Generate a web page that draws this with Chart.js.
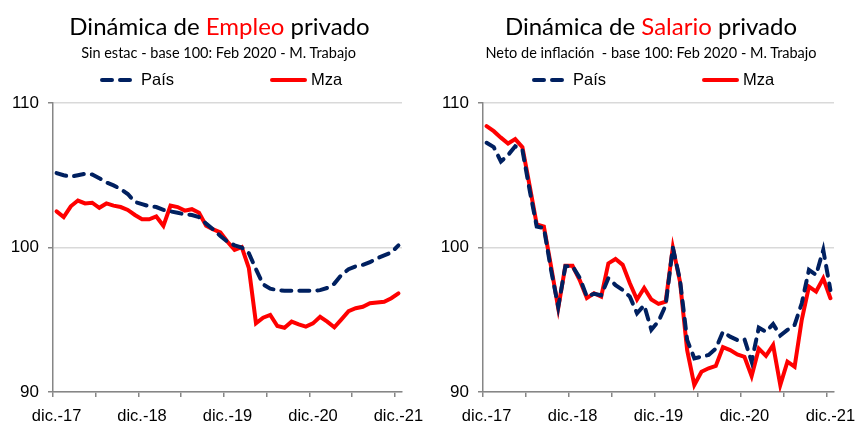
<!DOCTYPE html>
<html>
<head>
<meta charset="utf-8">
<script src="https://cdn.jsdelivr.net/npm/chart.js@4.4.1/dist/chart.umd.min.js"></script>
<style>
  body { margin: 0; background: #fff; }
  #wrap { position: relative; width: 855px; height: 421px; overflow: hidden; }
  canvas { position: absolute; top: 0; }
  .ttl { position: absolute; text-align: center; font-family: Lato, sans-serif; color: #000; white-space: nowrap; }
  .t1 { font-size: 24px; line-height: 28px; top: 12px; }
  .t2 { font-size: 14.5px; line-height: 17px; top: 44px; }
  .red { color: #ff0000; }
</style>
</head>
<body>
<div id="wrap">
  <canvas id="empleo" width="428" height="421" style="left:0"></canvas>
  <canvas id="salario" width="427" height="421" style="left:428px"></canvas>
  <div class="ttl t1" style="left:0;width:439px">Dinámica de <span class="red">Empleo</span> privado</div>
  <div class="ttl t2" style="left:0;width:437px">Sin estac - base 100: Feb 2020 - M. Trabajo</div>
  <div class="ttl t1" style="left:428px;width:446px">Dinámica de <span class="red">Salario</span> privado</div>
  <div class="ttl t2" style="left:428px;width:446px">Neto de inflación&nbsp; - base 100: Feb 2020 - M. Trabajo</div>
</div>
<script>
// monthly, dic-17 .. dic-21
const months = [
  'dic.-17',
  'ene.-18', 'feb.-18', 'mar.-18', 'abr.-18', 'may.-18', 'jun.-18', 'jul.-18', 'ago.-18', 'sep.-18', 'oct.-18', 'nov.-18', 'dic.-18',
  'ene.-19', 'feb.-19', 'mar.-19', 'abr.-19', 'may.-19', 'jun.-19', 'jul.-19', 'ago.-19', 'sep.-19', 'oct.-19', 'nov.-19', 'dic.-19',
  'ene.-20', 'feb.-20', 'mar.-20', 'abr.-20', 'may.-20', 'jun.-20', 'jul.-20', 'ago.-20', 'sep.-20', 'oct.-20', 'nov.-20', 'dic.-20',
  'ene.-21', 'feb.-21', 'mar.-21', 'abr.-21', 'may.-21', 'jun.-21', 'jul.-21', 'ago.-21', 'sep.-21', 'oct.-21', 'nov.-21', 'dic.-21'
]

const empleoPais = [
  105.15, 105.0, 104.9, 105.0, 105.1, 105.05, 104.8, 104.5, 104.3, 104.05, 103.7, 103.15, 103.0,
  102.85, 102.8, 102.6, 102.5, 102.4, 102.3, 102.25, 102.1, 101.65, 101.25, 100.8, 100.4,
  100.15, 100.0, 99.6, 98.5, 97.45, 97.15, 97.05, 97.0, 97.0, 97.0, 97.0, 97.0,
  97.05, 97.2, 97.5, 98.1, 98.5, 98.7, 98.8, 98.98, 99.25, 99.45, 99.65, 100.15
]
const empleoMza = [
  102.5, 102.1, 102.85, 103.25, 103.05, 103.1, 102.75, 103.05, 102.9, 102.8, 102.6, 102.25, 101.95,
  101.95, 102.15, 101.5, 102.9, 102.8, 102.55, 102.65, 102.4, 101.5, 101.25, 101.05, 100.4,
  99.83, 100.02, 98.57, 94.75, 95.14, 95.33, 94.57, 94.45, 94.87, 94.68, 94.52, 94.75,
  95.2, 94.87, 94.48, 95.03, 95.6, 95.8, 95.9, 96.14, 96.2, 96.25, 96.49, 96.83
]
const salarioPais = [
  107.25, 106.95, 105.95, 106.4, 107.0, 106.75, 104.0, 101.45, 101.35, 98.45, 95.9, 98.7, 98.7,
  97.9, 96.6, 96.8, 96.7, 97.87, 97.4, 97.06, 96.6, 95.45, 96.0, 94.3, 94.9,
  96.0, 100.0, 97.75, 93.6, 92.33, 92.44, 92.56, 93.0, 94.17, 93.83, 93.6, 93.66,
  92.1, 94.45, 94.17, 94.7, 93.9, 94.3, 94.64, 96.14, 98.45, 98.1, 99.83, 97.06
]
const salarioMza = [
  108.4, 108.05, 107.6, 107.2, 107.5, 106.95, 104.3, 101.6, 101.45, 98.7, 95.8, 98.73, 98.73,
  97.75, 96.5, 96.83, 96.6, 98.9, 99.2, 98.8, 97.53, 96.4, 97.2, 96.4, 96.1,
  96.25, 100.0, 97.64, 92.9, 90.48, 91.4, 91.64, 91.8, 93.1, 92.9, 92.6, 92.44,
  91.1, 93.0, 92.5, 93.25, 90.48, 92.1, 91.75, 95.0, 97.3, 96.95, 97.87, 96.49
]

const yMin = 90
const yMax = 110
const yStep = 10

const NAVY = '#002060'
const RED = '#ff0000'
const AXIS = '#868686'

// legend drawn as line samples, like the excel one
const lineLegend = {
  id: 'lineLegend',
  afterDraw (chart, args, opts) {
    const ctx = chart.ctx
    ctx.save()
    chart.data.datasets.forEach((ds, i) => {
      const x = opts.x[i]
      const y = opts.y
      ctx.beginPath()
      ctx.strokeStyle = ds.borderColor
      ctx.lineWidth = ds.borderWidth
      ctx.lineCap = ds.borderCapStyle || 'butt'
      ctx.setLineDash(ds.borderDash || [])
      ctx.moveTo(x + 2, y)
      ctx.lineTo(x + opts.width - 2, y)
      ctx.stroke()
      ctx.setLineDash([])
      ctx.fillStyle = '#000'
      ctx.font = '16.5px "Liberation Sans", Arial, sans-serif'
      ctx.textBaseline = 'middle'
      ctx.fillText(ds.label, x + opts.width + 4, y)
    })
    ctx.restore()
  }
}

function build (id, pais, mza, legendX, axisW, padRight) {
  const ctx = document.getElementById(id).getContext('2d')
  return new Chart(ctx, {
    type: 'line',
    data: {
      labels: months,
      datasets: [{
        label: 'País',
        data: pais,
        borderColor: NAVY,
        borderWidth: 4,
        borderDash: [10, 8],
        borderCapStyle: 'round',
        pointRadius: 0,
        tension: 0
      }, {
        label: 'Mza',
        data: mza,
        borderColor: RED,
        borderWidth: 4,
        borderCapStyle: 'round',
        pointRadius: 0,
        tension: 0
      }]
    },
    options: {
      responsive: false,
      animation: false,
      devicePixelRatio: 1,
      layout: { padding: { top: 103, right: padRight, bottom: 0, left: 0 } },
      plugins: {
        legend: { display: false },
        tooltip: { enabled: false },
        lineLegend: { x: legendX, y: 80, width: 37 }
      },
      scales: {
        x: {
          offset: true,
          afterFit: (s) => {
            s.height = 29
            // let the last label run off the edge, as in the original
            s.paddingLeft = 0
            s.paddingRight = 0
          },
          grid: {
            offset: true,
            drawOnChartArea: false,
            tickLength: 5,
            tickColor: (c) => (c.index % 6 === 0 ? AXIS : 'rgba(0,0,0,0)'),
            lineWidth: 1.5
          },
          border: { color: AXIS, width: 1.5 },
          ticks: {
            autoSkip: false,
            maxRotation: 0,
            padding: 10,
            color: '#000',
            font: { family: '"Liberation Sans", Arial, sans-serif', size: 16.5 },
            callback: (v, i) => (i % 12 === 0 ? months[i] : '')
          }
        },
        y: {
          min: yMin,
          max: yMax,
          afterFit: (s) => { s.width = axisW },
          grid: { color: '#d9d9d9', tickColor: AXIS, tickLength: 5, lineWidth: 1.5 },
          border: { color: AXIS, width: 1.5 },
          ticks: {
            stepSize: yStep,
            padding: 9,
            color: '#000',
            font: { family: '"Liberation Sans", Arial, sans-serif', size: 17 }
          }
        }
      }
    },
    plugins: [lineLegend]
  })
}

build('empleo', empleoPais, empleoMza, [100, 270], 53, 26)
build('salario', salarioPais, salarioMza, [104, 274], 55, 21)
</script>
</body>
</html>
